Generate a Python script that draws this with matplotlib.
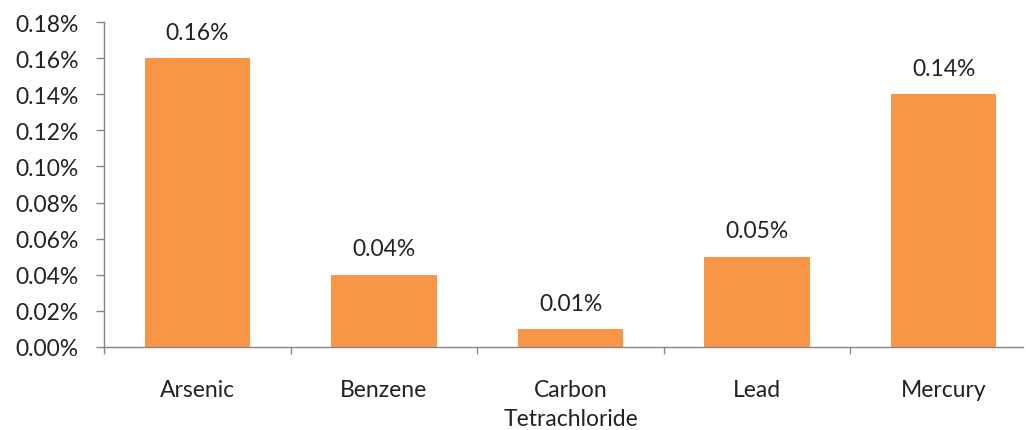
import matplotlib
matplotlib.use("Agg")
import matplotlib.pyplot as plt
from matplotlib.ticker import FuncFormatter, FixedLocator

categories = ["Arsenic", "Benzene", "Carbon\nTetrachloride", "Lead", "Mercury"]
values = [0.16, 0.04, 0.01, 0.05, 0.14]   # percent
value_labels = ["0.16%", "0.04%", "0.01%", "0.05%", "0.14%"]
yticks = [0.00, 0.02, 0.04, 0.06, 0.08, 0.10, 0.12, 0.14, 0.16, 0.18]

plt.rcParams['font.family'] = ['Lato', 'DejaVu Sans']

fig = plt.figure(figsize=(10.26, 4.31), dpi=100)
# axes box in pixels: left 104, right 1023, bottom 348, top 23
ax = fig.add_axes([104 / 1026, 1 - 348 / 431, (1023 - 104) / 1026, (348 - 23) / 431])

x = list(range(len(categories)))
ax.bar(x, values, width=0.565, color="#F79646", zorder=2)

for xi, v, lab in zip(x, values, value_labels):
    ax.annotate(lab, (xi, v), xytext=(0, 11), textcoords="offset points",
                ha="center", va="bottom", fontsize=16.5, color="#222222")

ax.set_ylim(0, 0.18)
ax.set_xlim(-0.5, 4.5 - 14 / 186.5)
ax.set_yticks(yticks)
ax.yaxis.set_major_formatter(FuncFormatter(lambda v, p: f"{v:.2f}%"))

# category labels centered, ticks at boundaries
ax.set_xticks(x)
ax.set_xticklabels(categories, fontsize=16.5, color="#222222", linespacing=1.5)
ax.tick_params(axis="x", which="major", length=0, pad=23)
ax.xaxis.set_minor_locator(FixedLocator([-0.5, 0.5, 1.5, 2.5, 3.5]))
ax.tick_params(axis="x", which="minor", length=5, width=1, color="#868686", direction="out")
ax.tick_params(axis="y", length=6, width=1, color="#868686", pad=12, labelsize=16.5, labelcolor="#222222")

for side in ["top", "right"]:
    ax.spines[side].set_visible(False)
for side in ["left", "bottom"]:
    ax.spines[side].set_color("#868686")
    ax.spines[side].set_linewidth(1)

fig.savefig("out.png", dpi=100)
